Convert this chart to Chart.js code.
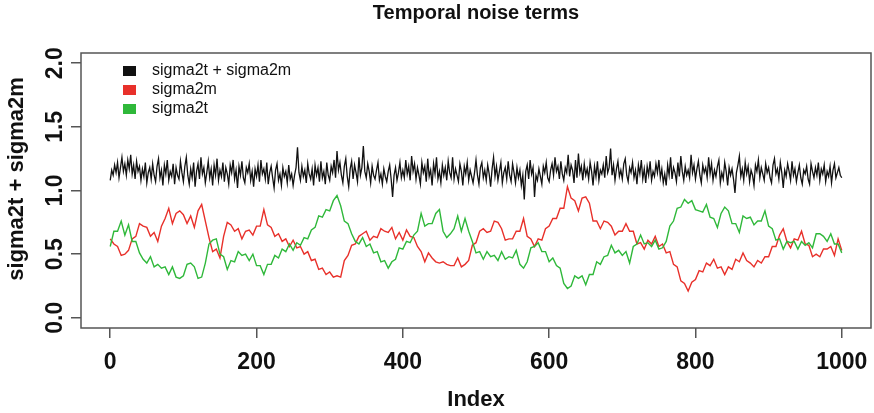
<!DOCTYPE html>
<html>
<head>
<meta charset="utf-8">
<script src="https://cdn.jsdelivr.net/npm/chart.js@4.4.0/dist/chart.umd.min.js"></script>
<style>
  html, body { margin: 0; padding: 0; background: #ffffff; }
  #c { display: block; }
</style>
</head>
<body>
<canvas id="c" width="874" height="413"></canvas>
<script>
// ---------- data ----------
const chartTitle = 'Temporal noise terms';
const xTitle = 'Index';
const yTitle = 'sigma2t + sigma2m';
const xTickValues = [0, 200, 400, 600, 800, 1000];
const yTickValues = [0.0, 0.5, 1.0, 1.5, 2.0];
const seriesNames = ['sigma2t + sigma2m', 'sigma2m', 'sigma2t'];
const indexMax = 1000;

// sigma2t + sigma2m, read every 2 index steps (0..1000)
const sigmaSum = [
  1.08,1.16,1.12,1.20,1.14,1.22,1.10,1.18,1.26,1.15,1.21,1.12,1.24,1.17,1.28,1.13,1.20,1.09,1.23,1.15,1.19,1.08,1.17,1.11,1.22,
  1.06,1.14,1.18,1.09,1.21,1.12,1.07,1.19,1.25,1.10,1.16,1.04,1.20,1.13,1.24,1.08,1.15,1.11,1.21,1.05,1.18,1.12,1.09,1.23,1.14,
  1.07,1.19,1.26,1.12,1.05,1.17,1.10,1.22,1.03,1.15,1.21,1.09,1.26,1.13,1.18,1.06,1.14,1.23,1.10,1.17,1.04,1.20,1.12,1.25,1.08,
  1.16,1.11,1.22,1.07,1.18,1.13,1.05,1.20,1.14,1.24,1.09,1.16,1.02,1.19,1.12,1.23,1.10,1.06,1.18,1.14,1.21,1.08,1.15,1.03,1.17,
  1.11,1.20,1.07,1.24,1.13,1.17,1.09,1.22,1.05,1.14,1.19,1.10,1.02,1.16,1.21,1.08,1.13,1.04,1.18,1.11,1.15,1.06,1.20,1.09,1.13,
  1.04,1.12,1.18,1.34,1.14,1.08,1.19,1.11,1.16,1.06,1.21,1.13,1.09,1.17,1.04,1.20,1.12,1.18,1.07,1.23,1.10,1.15,1.05,1.22,1.12,
  1.08,1.19,1.14,1.24,1.10,1.31,1.16,1.22,1.12,1.06,1.19,1.25,1.11,1.03,1.17,1.23,1.09,1.20,1.14,1.07,1.26,1.12,1.18,1.35,1.15,
  1.10,1.21,1.15,1.06,1.19,1.12,1.09,1.16,1.22,1.08,1.13,1.05,1.17,1.11,1.07,1.15,1.20,1.09,0.95,1.12,1.18,1.08,1.14,1.22,1.10,
  1.16,1.10,1.24,1.13,1.19,1.08,1.27,1.15,1.21,1.09,1.18,1.12,1.05,1.22,1.14,1.19,1.07,1.25,1.11,1.16,1.04,1.21,1.13,1.26,1.09,
  1.15,1.06,1.20,1.12,1.18,1.08,1.23,1.14,1.10,1.26,1.09,1.17,1.12,1.07,1.21,1.15,1.04,1.19,1.13,1.22,1.08,1.16,1.11,1.06,1.14,
  1.24,1.12,1.05,1.18,1.22,1.10,1.16,1.08,1.20,1.13,1.03,1.17,1.26,1.11,1.19,1.08,1.15,1.22,1.06,1.14,1.18,1.09,1.23,1.12,1.07,
  1.21,1.14,1.06,1.18,1.10,1.16,1.04,1.12,0.93,1.15,1.20,1.09,1.24,1.13,1.18,0.95,1.12,1.08,1.17,1.11,1.05,1.19,1.14,1.22,1.10,
  1.07,1.16,1.21,1.12,1.26,1.15,1.19,1.09,1.23,1.13,1.08,1.18,1.14,1.28,1.11,1.20,1.16,1.06,1.24,1.10,1.29,1.14,1.19,1.08,1.21,
  1.12,1.17,1.09,1.22,1.15,1.04,1.19,1.11,1.23,1.08,1.16,1.13,1.20,1.10,1.27,1.14,1.18,1.33,1.12,1.20,1.08,1.17,1.23,1.11,1.16,
  1.09,1.21,1.25,1.12,1.07,1.18,1.14,1.22,1.10,1.16,1.05,1.20,1.13,1.24,1.09,1.17,1.06,1.19,1.12,1.23,1.08,1.15,1.11,1.21,1.14,
  1.24,1.10,1.17,1.06,1.13,1.04,1.20,1.12,1.26,1.09,1.18,1.14,1.07,1.22,1.11,1.27,1.15,1.08,1.19,1.12,1.16,1.10,1.28,1.14,1.20,
  1.09,1.17,1.23,1.12,1.06,1.20,1.14,1.18,1.10,1.26,1.13,1.21,1.08,1.16,1.11,1.19,1.24,1.06,1.14,1.09,1.22,1.15,1.04,1.18,1.12,
  1.17,1.09,0.98,1.14,1.20,1.27,1.11,1.17,1.08,1.22,1.13,1.19,1.07,1.16,1.12,1.04,1.20,1.15,1.24,1.10,1.18,1.13,1.08,1.21,1.14,
  1.18,1.10,1.06,1.20,1.25,1.13,1.17,1.09,1.22,1.14,1.02,1.16,1.11,1.21,1.15,1.08,1.23,1.12,1.17,1.07,1.14,1.20,1.10,1.05,1.16,
  1.13,1.19,1.09,1.05,1.21,1.15,1.10,1.18,1.12,1.22,1.08,1.17,1.13,1.20,1.07,1.15,1.11,1.19,1.06,1.16,1.21,1.10,1.14,1.18,1.12,
  1.10
];

// sigma2m, read every 5 index steps (0..1000)
const sigma2m = [
  0.62,0.58,0.56,0.49,0.50,0.53,0.62,0.64,0.74,0.72,0.71,0.64,0.67,0.60,0.72,0.78,0.86,0.74,0.82,0.84,
  0.81,0.74,0.80,0.71,0.84,0.89,0.76,0.63,0.52,0.54,0.47,0.64,0.75,0.73,0.68,0.70,0.62,0.68,0.69,0.65,
  0.72,0.72,0.85,0.73,0.71,0.64,0.66,0.60,0.62,0.56,0.61,0.55,0.56,0.50,0.52,0.45,0.46,0.38,0.39,0.34,
  0.36,0.32,0.33,0.32,0.45,0.49,0.57,0.58,0.64,0.66,0.68,0.61,0.64,0.63,0.70,0.68,0.67,0.71,0.62,0.67,
  0.61,0.69,0.64,0.63,0.56,0.52,0.44,0.51,0.47,0.44,0.43,0.44,0.42,0.41,0.41,0.47,0.40,0.42,0.45,0.57,
  0.59,0.68,0.70,0.67,0.68,0.76,0.75,0.70,0.61,0.62,0.62,0.68,0.68,0.78,0.64,0.62,0.56,0.62,0.61,0.70,
  0.72,0.78,0.78,0.86,0.86,1.03,0.94,0.92,0.84,0.94,0.95,0.90,0.76,0.76,0.70,0.76,0.75,0.72,0.65,0.68,
  0.68,0.74,0.68,0.68,0.58,0.59,0.54,0.61,0.58,0.64,0.56,0.58,0.51,0.52,0.42,0.40,0.29,0.27,0.21,0.28,
  0.30,0.37,0.36,0.43,0.41,0.46,0.39,0.40,0.34,0.40,0.38,0.46,0.44,0.51,0.45,0.43,0.40,0.45,0.43,0.48,
  0.48,0.56,0.56,0.65,0.70,0.60,0.55,0.62,0.61,0.68,0.58,0.57,0.48,0.50,0.48,0.54,0.54,0.56,0.49,0.62,
  0.53
];

// sigma2t, read every 5 index steps (0..1000)
const sigma2t = [
  0.56,0.68,0.68,0.76,0.65,0.73,0.60,0.60,0.51,0.46,0.43,0.48,0.40,0.42,0.39,0.40,0.34,0.40,0.32,0.31,
  0.33,0.42,0.43,0.40,0.31,0.32,0.43,0.58,0.61,0.62,0.50,0.48,0.38,0.45,0.44,0.52,0.49,0.50,0.45,0.50,
  0.41,0.41,0.34,0.42,0.42,0.49,0.47,0.54,0.52,0.58,0.53,0.59,0.57,0.63,0.62,0.69,0.71,0.80,0.79,0.85,
  0.84,0.92,0.96,0.88,0.76,0.74,0.66,0.60,0.58,0.63,0.56,0.58,0.51,0.52,0.44,0.45,0.39,0.44,0.46,0.55,
  0.54,0.60,0.59,0.65,0.68,0.82,0.72,0.74,0.74,0.82,0.85,0.68,0.63,0.66,0.70,0.80,0.68,0.78,0.68,0.60,
  0.51,0.52,0.46,0.52,0.48,0.49,0.45,0.52,0.46,0.48,0.47,0.53,0.42,0.39,0.44,0.55,0.56,0.59,0.52,0.52,
  0.44,0.47,0.41,0.39,0.27,0.23,0.25,0.33,0.31,0.33,0.26,0.34,0.34,0.44,0.42,0.48,0.49,0.57,0.51,0.53,
  0.49,0.52,0.43,0.56,0.58,0.65,0.58,0.59,0.56,0.61,0.54,0.55,0.60,0.72,0.76,0.86,0.87,0.93,0.90,0.92,
  0.85,0.84,0.83,0.89,0.79,0.78,0.71,0.82,0.87,0.84,0.74,0.74,0.67,0.80,0.78,0.79,0.73,0.76,0.76,0.84,
  0.72,0.70,0.61,0.62,0.54,0.60,0.59,0.60,0.54,0.60,0.57,0.59,0.55,0.66,0.66,0.64,0.60,0.66,0.58,0.58,
  0.51
];

// ---------- chart ----------
const FONT = '"Liberation Sans", Arial, Helvetica, sans-serif';
const COLORS = ['#111111', '#e8302a', '#2fb83a'];

// each sample's Index position follows from its place in the evenly sampled series
const toPoints = (ys) => ys.map((y, i) => ({ x: i * indexMax / (ys.length - 1), y: y }));

const rDecor = {
  id: 'rDecor',
  afterDraw(chart) {
    const ctx = chart.ctx;
    const a = chart.chartArea;
    ctx.save();
    // plot box
    ctx.strokeStyle = '#555555';
    ctx.lineWidth = 1.5;
    ctx.strokeRect(a.left, a.top, a.right - a.left, a.bottom - a.top);
    // y axis title
    ctx.fillStyle = '#111111';
    ctx.font = 'bold 22px ' + FONT;
    ctx.textAlign = 'center';
    ctx.textBaseline = 'middle';
    ctx.save();
    ctx.translate(17, 179);
    ctx.rotate(-Math.PI / 2);
    ctx.fillText(yTitle, 0, 0);
    ctx.restore();
    // legend (inside plot, no box)
    ctx.font = '16px ' + FONT;
    ctx.textAlign = 'left';
    chart.data.datasets.forEach((ds, i) => {
      const cy = a.top + 18 + i * 19;
      ctx.fillStyle = ds.borderColor;
      ctx.fillRect(a.left + 42, cy - 5, 13, 10);
      ctx.fillStyle = '#111111';
      ctx.fillText(ds.label, a.left + 71, cy);
    });
    ctx.restore();
  }
};

new Chart(document.getElementById('c'), {
  type: 'line',
  data: {
    datasets: [
      { label: seriesNames[0], data: toPoints(sigmaSum), borderColor: COLORS[0], borderWidth: 1.3, order: 3 },
      { label: seriesNames[1], data: toPoints(sigma2m), borderColor: COLORS[1], order: 2 },
      { label: seriesNames[2], data: toPoints(sigma2t), borderColor: COLORS[2], order: 1 }
    ]
  },
  options: {
    responsive: false,
    devicePixelRatio: 1,
    animation: false,
    layout: { padding: { left: 0, right: 3, top: 0, bottom: 0 } },
    elements: {
      line: { borderWidth: 1.4, tension: 0, fill: false },
      point: { radius: 0, hoverRadius: 0 }
    },
    plugins: {
      legend: { display: false },
      tooltip: { enabled: false },
      title: {
        display: true,
        fullSize: false,
        text: chartTitle,
        color: '#111111',
        font: { family: FONT, size: 20, weight: 'bold' },
        padding: { top: 1, bottom: 28 }
      }
    },
    scales: {
      x: {
        type: 'linear',
        position: 'bottom',
        min: -39.96,
        max: 1039.96,
        afterBuildTicks: (s) => { s.ticks = xTickValues.map(v => ({ value: v })); },
        afterFit: (s) => { s.height = 85; s.paddingLeft = 0; s.paddingRight = 0; },
        ticks: {
          autoSkip: false,
          maxRotation: 0,
          minRotation: 0,
          padding: 11,
          color: '#111111',
          font: { family: FONT, size: 23, weight: 'bold' },
          callback: (v) => String(v)
        },
        grid: { drawOnChartArea: false, drawTicks: true, tickLength: 10, color: '#555555', lineWidth: 1.5 },
        border: { display: false },
        title: {
          display: true,
          text: xTitle,
          color: '#111111',
          font: { family: FONT, size: 22, weight: 'bold' },
          padding: { top: 0, bottom: 0 }
        }
      },
      y: {
        type: 'linear',
        position: 'left',
        min: -0.08,
        max: 2.08,
        afterBuildTicks: (s) => { s.ticks = yTickValues.map(v => ({ value: v })); },
        afterFit: (s) => { s.width = 81; s.paddingTop = 0; s.paddingBottom = 0; },
        ticks: {
          autoSkip: false,
          minRotation: 90,
          maxRotation: 90,
          crossAlign: 'center',
          padding: -1,
          color: '#111111',
          font: { family: FONT, size: 23, weight: 'bold' },
          callback: (v) => Number(v).toFixed(1)
        },
        grid: { drawOnChartArea: false, drawTicks: true, tickLength: 10, color: '#555555', lineWidth: 1.5 },
        border: { display: false }
      }
    }
  },
  plugins: [rDecor]
});
</script>
</body>
</html>
